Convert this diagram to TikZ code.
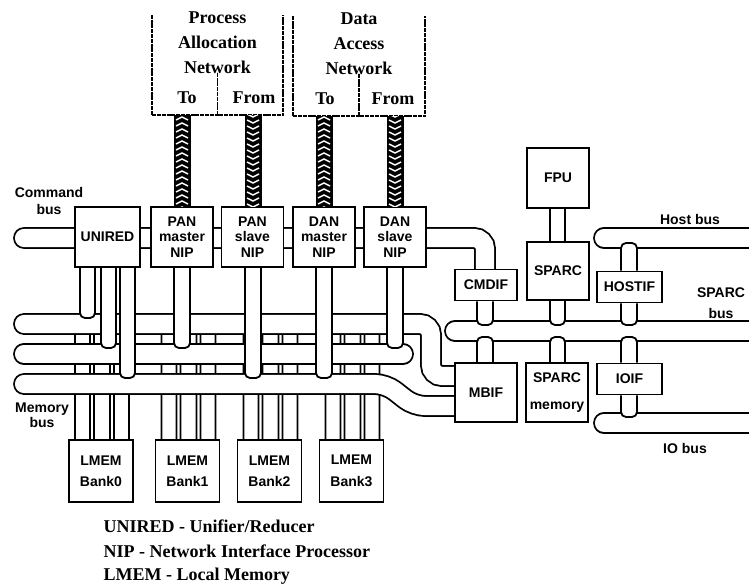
\documentclass[tikz,border=0pt]{standalone}
\usepackage{fontspec}
\setmainfont{Liberation Serif}
\setsansfont{Liberation Sans}
\usetikzlibrary{backgrounds}

\newcommand{\unitfont}{\sffamily\bfseries\fontsize{14}{15.5}\selectfont}
\newcommand{\notefont}{\rmfamily\bfseries\fontsize{18}{25}\selectfont}

% white pipe from a box edge into a bus
\newcommand{\pipe}[4]{\path[pipe] (#1,0 |- #3) -- (#1,0 |- #4) -- (#2,0 |- #4) -- (#2,0 |- #3);}
% hatched network cable, #4 = +3 (to) or -3 (from)
\newcommand{\cable}[4]{%
  \begin{scope}
    \path[fill=black] (#1-8.5,0 |- #2) rectangle (#1+8.5,0 |- #3);
    \clip (#1-7,0 |- #2) rectangle (#1+7,0 |- #3);
    \foreach \k in {0,...,16}
      {\draw[chev] (#1-6,117+6*\k#4) -- (#1,117+6*\k) -- (#1+6,117+6*\k#4);}
  \end{scope}}

\begin{document}
\begin{tikzpicture}[x=1pt,y=-1pt]
  \tikzset{
    unit/.style={draw,line width=1.8pt,fill=white,inner sep=0pt,align=center,
      font=\unitfont,minimum width=62pt,minimum height=60pt},
    flat/.style={unit,minimum height=31pt},
    bank/.style={unit,minimum width=64pt,minimum height=62pt},
    bus/.style={draw=black,line width=1.8pt,double=white,double distance=18.2pt,
      line cap=round,rounded corners=11pt},
    pipe/.style={draw,fill=white,line width=1.8pt,rounded corners=5pt},
    netbox/.style={draw,line width=1.6pt,dash pattern=on 4pt off 0.8pt},
    chev/.style={white,line width=1.5pt},
    lbl/.style={font=\unitfont,align=center},
    note/.style={font=\notefont,align=center}
  }
  \useasboundingbox (0,0) rectangle (749,588);

  % networks
  \node[minimum width=131pt,minimum height=100pt,inner sep=0pt] (pan) at (217.5,65) {};
  \node[minimum width=132pt,minimum height=100pt,inner sep=0pt] (dan) at (359,66) {};
  \draw[netbox] (pan.north west) -- (pan.south west) -- (pan.south east) -- (pan.north east);
  \draw[netbox] (pan.south) -- (pan.south |- 0,72);
  \draw[netbox] (dan.north west) -- (dan.south west) -- (dan.south east) -- (dan.north east);
  \draw[netbox] (dan.south) -- (dan.south |- 0,73);
  \node[note] (pantext) at (217.5,43) {Process\\Allocation\\Network};
  \node[note] (panto) at (187,98) {To};
  \node[note] (panfrom) at (254,98) {From};
  \node[note] (dantext) at (359,44) {Data\\Access\\Network};
  \node[note] (danto) at (325,99) {To};
  \node[note] (danfrom) at (393,99) {From};

  % processing units
  \node[unit,minimum width=65pt] (unired) at (107.5,237) {UNIRED};
  \node[unit] (pam) at (182,237) {PAN\\master\\NIP};
  \node[unit] (pas) at (252.5,237) {PAN\\slave\\NIP};
  \node[unit] (dam) at (324,237) {DAN\\master\\NIP};
  \node[unit] (das) at (395,237) {DAN\\slave\\NIP};
  \node[flat] (cmdif) at (486,285) {CMDIF};
  \node[unit,minimum width=62pt,minimum height=60pt] (fpu) at (558,178) {FPU};
  \node[unit,minimum width=62pt,minimum height=58pt] (sparc) at (558,271) {SPARC};
  \node[flat,minimum width=65pt] (hostif) at (629.5,287) {HOSTIF};
  \node[unit,minimum height=59pt] (mbif) at (486,392.5) {MBIF};
  \node[unit,minimum height=59pt] (smem) at (557,392.5) {SPARC\\[12pt]memory};
  \node[flat,minimum width=65pt] (ioif) at (629.5,379) {IOIF};
  \foreach \x/\n in {101/0,187.5/1,269.5/2,351.5/3}
    {\node[bank] (bank\n) at (\x,471) {LMEM\\[6pt]Bank\n};}

  % bus labels
  \node[lbl] (cmdlabel) at (49,201) {Command\\[1.5pt]bus};
  \node[lbl] (memlabel) at (42,415) {Memory\\bus};
  \node[lbl] (hostlabel) at (690,219) {Host bus};
  \node[lbl] (sparclabel) at (721,303) {SPARC\\[6pt]bus};
  \node[lbl] (iolabel) at (685,448) {IO bus};

  % where pipes meet the buses
  \coordinate (Atap) at (0,318);
  \coordinate (Btap) at (0,348);
  \coordinate (Ctap) at (0,378);
  \coordinate (Ahold) at (0,324);
  \coordinate (Stop) at (0,325);
  \coordinate (Sbot) at (0,337);
  \coordinate (Hbot) at (0,243);
  \coordinate (Itop) at (0,417);

  \begin{scope}[on background layer]
    \clip (0,0) rectangle (749,588);
    % bank taps pass under the buses
    \foreach \x/\n in {101/0,187.5/1,269.5/2,351.5/3}
      {\foreach \a/\b in {-26/-11,-7/+9,+13/+28}
        {\pipe{\x\a}{\x\b}{bank\n.north}{Ahold}}}

    \draw[bus] (24,238) -- (485,238) -- (485,280);
    \draw[bus] (24,324) -- (431,324) -- (431,376) -- (465,376);
    \draw[bus] (24,354) -- (403,354);
    \draw[bus] (24,384) -- (386,384) -- (414,406) -- (465,406);
    \draw[bus] (455,331) -- (770,331);
    \draw[bus] (604,238) -- (770,238);
    \draw[bus] (604,423) -- (770,423);

    \pipe{80}{95}{unired.south}{Atap}
    \pipe{101}{116}{unired.south}{Btap}
    \pipe{120}{135}{unired.south}{Ctap}
    \pipe{174}{190}{pam.south}{Btap}
    \pipe{245}{261}{pas.south}{Ctap}
    \pipe{316}{332}{dam.south}{Ctap}
    \pipe{387}{403}{das.south}{Btap}
    \pipe{477}{493}{cmdif.south}{Stop}
    \pipe{550}{565}{fpu.south}{sparc.center}
    \pipe{550}{565}{sparc.south}{Stop}
    \pipe{621}{637}{hostif.south}{Stop}
    \pipe{621}{637}{hostif.north}{Hbot}
    \pipe{477}{493}{mbif.north}{Sbot}
    \pipe{550}{565}{smem.north}{Sbot}
    \pipe{621}{637}{ioif.north}{Sbot}
    \pipe{621}{637}{ioif.south}{Itop}
  \end{scope}

  % network cables
  \cable{182}{pan.south}{pam.north}{+3}
  \cable{253}{pan.south}{pas.north}{-3}
  \cable{324}{dan.south}{dam.north}{+3}
  \cable{395}{dan.south}{das.north}{-3}

  % legend
  \node[note,anchor=west] (leg1) at (100,526) {UNIRED - Unifier/Reducer};
  \node[note,anchor=west] (leg2) at (100,551) {NIP - Network Interface Processor};
  \node[note,anchor=west] (leg3) at (100,576) {LMEM - Local Memory};
\end{tikzpicture}
\end{document}
